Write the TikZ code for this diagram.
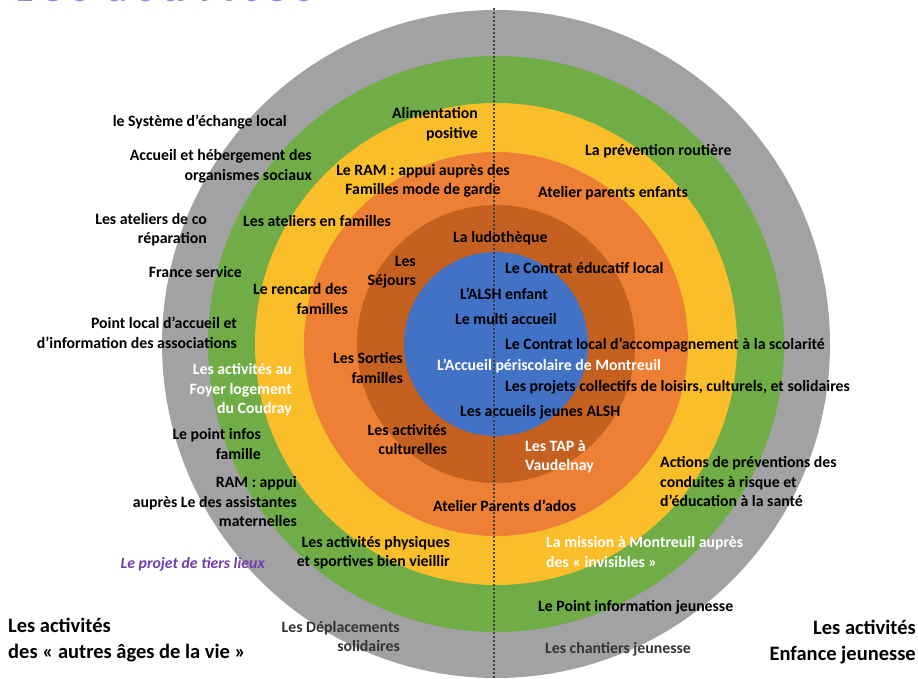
\documentclass[tikz,border=0pt]{standalone}
\usepackage{fontspec}
\setmainfont{Carlito}
\usepackage{tikz}
\usetikzlibrary{positioning}
\usepackage{xcolor}

\definecolor{ringgray}{RGB}{162,162,164}
\definecolor{ringgreen}{RGB}{112,173,71}
\definecolor{ringyellow}{RGB}{250,190,42}
\definecolor{ringorange}{RGB}{237,128,52}
\definecolor{ringdark}{RGB}{196,96,32}
\definecolor{ringblue}{RGB}{66,114,198}
\definecolor{tierspurple}{RGB}{112,60,170}
\definecolor{titlepurple}{RGB}{152,134,212}

\begin{document}
\begin{tikzpicture}[
    x=1pt, y=-1pt,
    every node/.style={
        font=\fontsize{15.8}{19.5}\selectfont\bfseries,
        inner sep=0pt,
        text=black
    },
    lefttxt/.style={anchor=east, align=right},
    righttxt/.style={anchor=west, align=left},
    midtxt/.style={align=center},
    inwhite/.style={text=white},
    light/.style={text=black!80},
    big/.style={font=\fontsize{20.5}{26}\selectfont\bfseries},
    ring/.style={draw=none}
]
\useasboundingbox (0,0) rectangle (918,679);

% Title (cut by the top edge)
\begin{scope}
\clip (0,0) rectangle (918,679);
\node[anchor=base west, text=titlepurple,
      font=\fontsize{40}{48}\selectfont\bfseries\addfontfeature{LetterSpace=24}]
      (title) at (16,2) {Les activités};
\end{scope}

% Rings, outside in
\coordinate (c) at (496,344);
\fill[ring, ringgray]   (c) circle[radius=334pt];
\fill[ring, ringgreen]  (c) circle[radius=288pt];
\fill[ring, ringyellow] (c) circle[radius=241pt];
\fill[ring, ringorange] (c) circle[radius=192pt];
\fill[ring, ringdark]   (c) circle[radius=139pt];
\fill[ring, ringblue]   (c) circle[radius=92pt];

% Split line
\coordinate (split-top) at (494,8);
\coordinate (split-bot) at (494,679);
\draw[line width=1.5pt, black!75, dash pattern=on 2pt off 2pt] (split-top) -- (split-bot);

% Left half: autres ages de la vie
\node[lefttxt] (sel) at (287,122) {le Système d’échange local};
\node[lefttxt] (hebergement) at (312,166.5) {Accueil et hébergement des\\organismes sociaux};
\node[lefttxt] (coreparation) at (207,229.5) {Les ateliers de co\\réparation};
\node[lefttxt] (franceserv) at (242,272) {France service};
\node[lefttxt] (pointlocal) at (237,333) {Point local d’accueil et\\d’information des associations};
\node[lefttxt, inwhite] (foyer) at (292,390) {Les activités au\\Foyer logement\\du Coudray};
\node[lefttxt] (infos) at (261,444) {Le point infos\\famille};
\node[lefttxt] (ramappui) at (297,502) {RAM : appui\\auprès Le des assistantes\\maternelles};
\node[lefttxt, text=tierspurple, font=\fontsize{15.8}{19.5}\selectfont\bfseries\itshape] (tierslieux) at (265,564) {Le projet de tiers lieux};
\node[lefttxt] (physiques) at (450,552.5) {Les activités physiques\\et sportives bien vieillir};
\node[lefttxt, light] (deplacements) at (400,636.5) {Les Déplacements\\solidaires};

\node[lefttxt] (alimentation) at (478,124) {Alimentation\\positive};
\node[midtxt] (ramfamilles) at (423,181) {Le RAM : appui auprès des\\Familles mode de garde};
\node[righttxt] (ateliersfam) at (243,221) {Les ateliers en familles};
\node[lefttxt] (sejours) at (416,272) {Les\\Séjours};
\node[lefttxt] (rencard) at (348,299) {Le rencard des\\familles};
\node[lefttxt] (sorties) at (403,368) {Les Sorties\\familles};
\node[lefttxt] (culturelles) at (447,439.5) {Les activités\\culturelles};

% Center and right half: enfance jeunesse
\node[righttxt] (ludo) at (453,238) {La ludothèque};
\node[righttxt] (contratedu) at (505,268) {Le Contrat éducatif local};
\node[righttxt] (alshenf) at (460,294) {L’ALSH enfant};
\node[righttxt] (multi) at (455,319) {Le multi accueil};
\node[righttxt] (clas) at (505,345) {Le Contrat local d’accompagnement à la scolarité};
\node[righttxt, inwhite] (periscolaire) at (437,366) {L’Accueil périscolaire de Montreuil};
\node[righttxt] (projets) at (505,387) {Les projets collectifs de loisirs, culturels, et solidaires};
\node[righttxt] (accjeunes) at (460,412) {Les accueils jeunes ALSH};
\node[righttxt, inwhite] (tap) at (525,457) {Les TAP à\\Vaudelnay};
\node[righttxt] (ados) at (433,506) {Atelier Parents d’ados};
\node[righttxt] (actions) at (660,481.5) {Actions de préventions des\\conduites à risque et\\d’éducation à la santé};
\node[righttxt, inwhite] (mission) at (546,552) {La mission à Montreuil auprès\\des « invisibles »};
\node[righttxt] (pij) at (538,607) {Le Point information jeunesse};
\node[righttxt, light] (chantiers) at (545,649) {Les chantiers jeunesse};
\node[righttxt] (routiere) at (585,151) {La prévention routière};
\node[righttxt] (parentsenf) at (538,193) {Atelier parents enfants};

% Group captions
\node[righttxt, big] (autres) at (8,640) {Les activités\\des « autres âges de la vie »};
\node[lefttxt, big] (enfance) at (916,642.5) {Les activités\\Enfance jeunesse};

\end{tikzpicture}
\end{document}
